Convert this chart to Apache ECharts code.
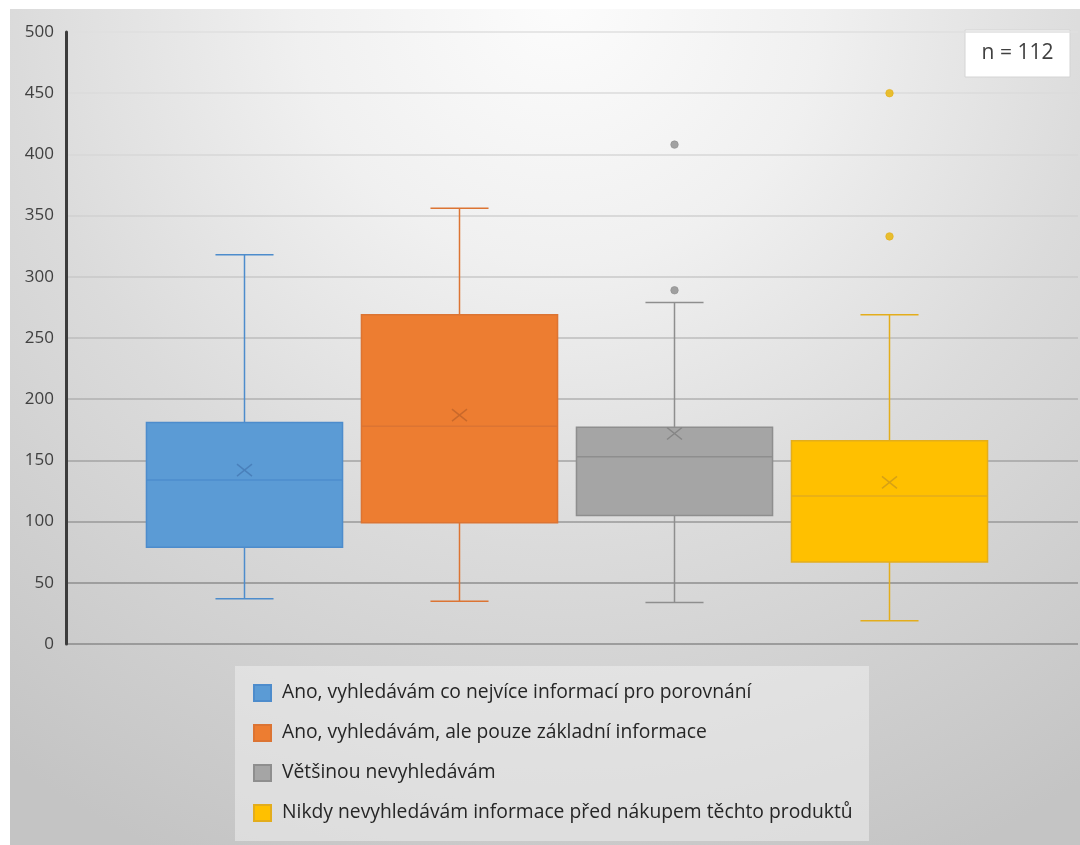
<!DOCTYPE html>
<html>
<head>
<meta charset="utf-8">
<script src="https://cdn.jsdelivr.net/npm/echarts@6/dist/echarts.min.js"></script>
<style>
  html, body { margin: 0; padding: 0; background: #ffffff; }
  #chart { width: 1080px; height: 845px; }
</style>
</head>
<body>
<div id="chart"></div>
<script>
// ---- data ----
const categories = [
  'Ano, vyhledávám co nejvíce informací pro porovnání',
  'Ano, vyhledávám, ale pouze základní informace',
  'Většinou nevyhledávám',
  'Nikdy nevyhledávám informace před nákupem těchto produktů'
];
const minValues    = [37, 35, 34, 19];
const q1Values     = [79, 99, 105, 67];
const medianValues = [134, 178, 153, 121];
const q3Values     = [181, 269, 177, 166];
const maxValues    = [318, 356, 279, 269];
const meanValues   = [142, 187, 172, 132];
const outlierValues = [[], [], [408, 289], [450, 333]];
const yTicks = [0, 50, 100, 150, 200, 250, 300, 350, 400, 450, 500];
const sampleNote = 'n = 112';

// ---- styles ----
const fills   = ['#5b9bd5', '#ed7d31', '#a5a5a5', '#ffc000'];
const strokes = ['#4d8ccc', '#dc7433', '#8e8e8e', '#e3ad1c'];
const meanColors = ['#4a80bb', '#c9692b', '#858585', '#d7a114'];
const outlierColors = ['#5b9bd5', '#ed7d31', '#8c8c8c', '#e8b400'];
const gridColors = ['#8a8a8a', '#8e8e8e', '#999999', '#a3a3a3', '#b0b0b0', '#bdbdbd',
                    '#c8c8c8', '#d1d1d1', '#d7d7d7', '#dbdbdb', '#dfdfdf'];
const FONT = '"Open Sans", sans-serif';

function makeRenderItem(i) {
  return function (params, api) {
    const cat = api.value(0);
    const x = api.coord([cat, 0])[0];
    const band = api.size([1, 0])[0];
    const half = band * 0.456;
    const capHalf = band * 0.135;
    const y = v => api.coord([cat, v])[1];
    const yMin = y(api.value(1)), yQ1 = y(api.value(2)), yMed = y(api.value(3)),
          yQ3 = y(api.value(4)), yMax = y(api.value(5)), yMean = y(api.value(6));
    const ls = { stroke: strokes[i], lineWidth: 1.5, fill: null };
    const mx = 7.5, my = 6;
    return {
      type: 'group',
      children: [
        { type: 'line', shape: { x1: x, y1: yQ3, x2: x, y2: yMax }, style: ls },
        { type: 'line', shape: { x1: x, y1: yQ1, x2: x, y2: yMin }, style: ls },
        { type: 'line', shape: { x1: x - capHalf, y1: yMax, x2: x + capHalf, y2: yMax }, style: ls },
        { type: 'line', shape: { x1: x - capHalf, y1: yMin, x2: x + capHalf, y2: yMin }, style: ls },
        { type: 'rect', shape: { x: x - half, y: yQ3, width: half * 2, height: yQ1 - yQ3 },
          style: { fill: fills[i], stroke: strokes[i], lineWidth: 1.5 } },
        { type: 'line', shape: { x1: x - half, y1: yMed, x2: x + half, y2: yMed }, style: ls },
        { type: 'line', shape: { x1: x - mx, y1: yMean - my, x2: x + mx, y2: yMean + my },
          style: { stroke: meanColors[i], lineWidth: 1.5 } },
        { type: 'line', shape: { x1: x - mx, y1: yMean + my, x2: x + mx, y2: yMean - my },
          style: { stroke: meanColors[i], lineWidth: 1.5 } }
      ]
    };
  };
}

const series = [];
categories.forEach((name, i) => {
  series.push({
    name: name,
    type: 'custom',
    xAxisIndex: 1,
    yAxisIndex: 1,
    renderItem: makeRenderItem(i),
    itemStyle: { color: fills[i], borderColor: strokes[i], borderWidth: 1 },
    encode: { x: 0, y: [1, 2, 3, 4, 5, 6] },
    data: [[name, minValues[i], q1Values[i], medianValues[i], q3Values[i], maxValues[i], meanValues[i]]],
    z: 5
  });
});
categories.forEach((name, i) => {
  if (!outlierValues[i].length) return;
  series.push({
    type: 'scatter',
    xAxisIndex: 1,
    yAxisIndex: 1,
    symbol: 'circle',
    symbolSize: 7.5,
    itemStyle: { color: outlierColors[i], borderColor: strokes[i], borderWidth: 0.8 },
    data: outlierValues[i].map(v => [name, v]),
    z: 6
  });
});

const chart = echarts.init(document.getElementById('chart'), null, { renderer: 'canvas' });
chart.setOption({
  animation: false,
  graphic: [
    {
      type: 'rect', z: -100, silent: true,
      shape: { x: 10, y: 9, width: 1070, height: 836 },
      style: {
        fill: new echarts.graphic.RadialGradient(560, 0, 940, [
          { offset: 0, color: '#fcfcfc' },
          { offset: 0.28, color: '#f0f0f0' },
          { offset: 0.58, color: '#dbdbdb' },
          { offset: 1, color: '#c4c4c4' }
        ], true)
      }
    },
    {
      type: 'rect', z: -50, silent: true,
      shape: { x: 235, y: 666, width: 634, height: 175 },
      style: { fill: 'rgba(238,238,238,0.55)' }
    },
    {
      type: 'group', z: 20,
      children: [
        { type: 'rect', shape: { x: 965, y: 30, width: 105, height: 47 },
          style: { fill: '#ffffff', stroke: '#d4d4d4', lineWidth: 1 } },
        { type: 'text', x: 1017.5, y: 53.5,
          style: { text: sampleNote, font: '21px ' + FONT, fill: '#404040',
                   align: 'center', verticalAlign: 'middle' } }
      ]
    }
  ],
  legend: {
    data: categories,
    orient: 'vertical',
    left: 253,
    top: 683,
    padding: 0,
    icon: 'rect',
    itemWidth: 17,
    itemHeight: 16,
    itemGap: 20,
    selectedMode: false,
    textStyle: { fontFamily: FONT, fontSize: 19.3, color: '#262626', lineHeight: 20, padding: [0, 0, 0, 6] }
  },
  grid: [
    { left: 66, right: 2, top: 32, bottom: 201, containLabel: false },
    { left: 137, right: 83, top: 32, bottom: 201, containLabel: false }
  ],
  xAxis: [
    {
      type: 'category', gridIndex: 0, data: [''],
      axisLine: { show: false }, axisTick: { show: false }, axisLabel: { show: false }
    },
    {
      type: 'category', gridIndex: 1, data: categories, show: false
    }
  ],
  yAxis: [
    {
      type: 'value', gridIndex: 0, min: yTicks[0], max: yTicks[yTicks.length - 1], interval: 50,
      axisLine: { show: true, lineStyle: { color: '#3c3c3c', width: 3 } },
      axisTick: { show: false },
      axisLabel: { fontFamily: FONT, fontSize: 17, color: '#404040', margin: 12 },
      splitLine: { show: true, lineStyle: { color: gridColors, width: 1.5 } }
    },
    {
      type: 'value', gridIndex: 1, min: yTicks[0], max: yTicks[yTicks.length - 1], interval: 50, show: false
    }
  ],
  series: series
});
</script>
</body>
</html>
